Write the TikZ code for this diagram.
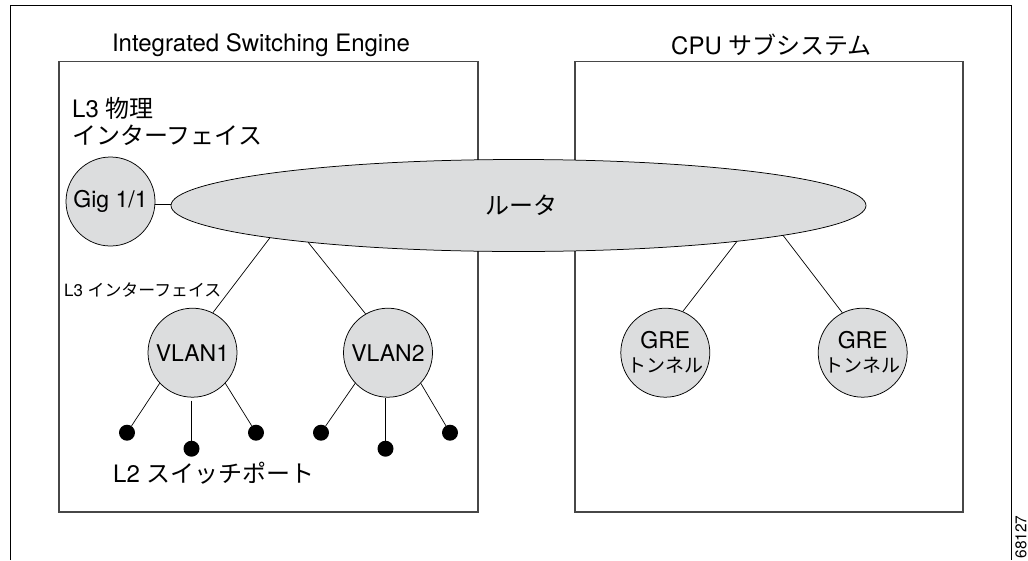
\documentclass[tikz,border=0pt]{standalone}
\usepackage{fontspec}
\setmainfont{TeX Gyre Heros}
\newfontfamily\cjk{Noto Sans CJK JP}
\usetikzlibrary{shapes.geometric}
\definecolor{shade}{HTML}{DCDDDE}
\tikzset{
  frameline/.style={draw=black, line width=1pt},
  boxline/.style={draw=black!72, line width=1.2pt},
  lab/.style={inner sep=0pt, font=\fontsize{24}{28}\selectfont},
  small/.style={inner sep=0pt, font=\fontsize{16.9}{20}\selectfont},
  disc/.style={circle, draw=black, line width=0.75pt, fill=shade, minimum size=89pt, inner sep=0pt, font=\fontsize{23}{27}\selectfont, align=center},
  dotport/.style={circle, fill=black, minimum size=16pt, inner sep=0pt},
  wire/.style={draw=black, line width=0.7pt}
}
\begin{document}
\begin{tikzpicture}[x=1pt,y=-1pt]
\useasboundingbox (0,0) rectangle (1028,560);
\draw[frameline] (10.5,560) -- (10.5,5) -- (1011.5,5) -- (1011.5,560);
\node[boxline, rectangle, minimum width=419pt, minimum height=450.5pt, inner sep=0pt] (engine) at (268.5,286.75) {};
\node[boxline, rectangle, minimum width=388pt, minimum height=450.5pt, inner sep=0pt] (cpu) at (769,286.75) {};
\node[lab] (enginetitle) at (261,45) {Integrated Switching Engine};
\node[lab] (cputitle) at (771.5,45) {CPU {\cjk サブシステム}};
\node[lab, anchor=west] (l3phys) at (72,108) {L3 {\cjk 物理}};
\node[lab, anchor=west] (l3if) at (72,135) {\cjk インターフェイス};
\node[small, anchor=west] (l3small) at (64,290) {L3 {\cjk インターフェイス}};
\node[lab, anchor=west] (l2) at (113,473) {L2 {\cjk スイッチポート}};
\node[ellipse, draw=black, line width=0.75pt, fill=shade, minimum width=695pt, minimum height=92pt, inner sep=0pt, font=\fontsize{24}{28}\selectfont\cjk] (router) at (518.5,205.5) {\hspace*{6pt}ルータ};
\node[disc] (gig) at (110.5,201.5) {Gig 1/1};
\node[disc] (vlan1) at (192.5,352.7) {VLAN1};
\node[disc] (vlan2) at (388,352.7) {VLAN2};
\node[disc] (gre1) at (665.3,352.7) {GRE\\[-3pt]{\fontsize{19}{21}\selectfont\cjk トンネル}};
\node[disc] (gre2) at (862.7,352.7) {GRE\\[-3pt]{\fontsize{19}{21}\selectfont\cjk トンネル}};
\node[dotport] (p1) at (127,432.7) {};
\node[dotport] (p2) at (191.5,448.7) {};
\node[dotport] (p3) at (256,432.7) {};
\node[dotport] (p4) at (321,432.7) {};
\node[dotport] (p5) at (385.5,448.7) {};
\node[dotport] (p6) at (450,432.7) {};
\coordinate (rv1) at ([shift={(-248.5,32.2)}]router.center);
\coordinate (rv2) at ([shift={(-210.5,36.6)}]router.center);
\coordinate (rg1) at ([shift={(218.5,35.8)}]router.center);
\coordinate (rg2) at ([shift={(264.5,29.8)}]router.center);
\draw[wire] (gig.-3) -- (gig.-3 -| router.west);
\draw[wire] (rv1) -- (vlan1.63.3);
\draw[wire] (rv2) -- (vlan2.120);
\draw[wire] (rg1) -- (gre1.67);
\draw[wire] (rg2) -- (gre2.117);
\draw[wire] (vlan1.223) -- (p1);
\draw[wire, shorten <=3pt] (vlan1.south -| p2) -- (p2);
\draw[wire] (vlan1.-43) -- (p3);
\draw[wire] (vlan2.223) -- (p4);
\draw[wire] (vlan2.south -| p5) -- (p5);
\draw[wire] (vlan2.-43) -- (p6);
\node[inner sep=0pt, rotate=90, font=\fontsize{15.5}{18}\selectfont] (fignum) at (1021,537) {68127};
\end{tikzpicture}
\end{document}
